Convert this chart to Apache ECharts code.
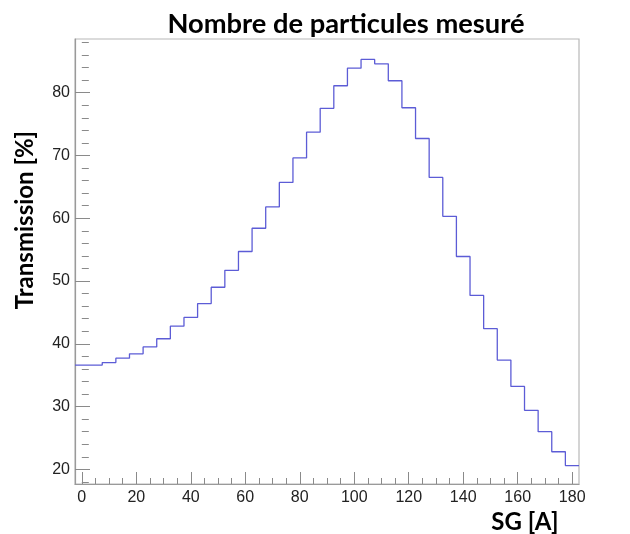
<!DOCTYPE html>
<html>
<head>
<meta charset="utf-8">
<script src="https://cdn.jsdelivr.net/npm/echarts@6/dist/echarts.min.js"></script>
<style>
  html, body { margin: 0; padding: 0; background: #fff; }
  #chart { width: 630px; height: 534px; }
</style>
</head>
<body>
<div id="chart"></div>
<script>
(function(){
    'use strict';

    // histogramme : 37 bins de 5 A, centres 0..180
    var binWidth = 5;
    var binCenters = [0,5,10,15,20,25,30,35,40,45,50,55,60,65,70,75,80,85,90,
        95,100,105,110,115,120,125,130,135,140,145,150,155,160,165,170,175,180];
    var transmission = [36.6,36.6,37.0,37.7,38.4,39.5,40.8,42.8,44.2,46.4,49.0,
        51.7,54.7,58.4,61.8,65.7,69.6,73.7,77.5,81.1,83.9,85.3,84.6,81.9,77.6,
        72.7,66.5,60.3,53.9,47.7,42.4,37.4,33.2,29.4,26.0,22.8,20.6];

    var xTicks = [0,20,40,60,80,100,120,140,160,180];
    var xMinorTicks = [5,10,15,25,30,35,45,50,55,65,70,75,85,90,95,105,110,115,
        125,130,135,145,150,155,165,170,175];
    var yTicks = [20,30,40,50,60,70,80];
    var yMinorTicks = [18,22,24,26,28,32,34,36,38,42,44,46,48,52,54,56,58,62,64,
        66,68,72,74,76,78,82,84,86,88];

    var xMin = -2.5, xMax = 182.5;
    var yMin = 17.66, yMax = 88.55;

    // points du contour (bord gauche de chaque bin + bord droit final)
    var steps = [];
    for (var i = 0; i < binCenters.length; i++){
        steps.push([binCenters[i] - binWidth / 2, transmission[i]]);
    }
    var last = binCenters.length - 1;
    steps.push([binCenters[last] + binWidth / 2, transmission[last]]);

    var labelFont = 'Liberation Sans';
    var boldFont = 'Lato';

    function valueAxis(min, max, extra){
        var ax = {
            type: 'value',
            min: min,
            max: max,
            splitLine: {show: false},
            axisLine: {show: false},
            axisTick: {show: false},
            axisLabel: {show: false}
        };
        for (var k in extra) ax[k] = extra[k];
        return ax;
    }

    var chart = echarts.init(document.getElementById('chart'), null, {renderer: 'canvas'});
    var option = {
        animation: false,
        backgroundColor: '#fff',
        grid: {
            left: 75, right: 51, top: 39, bottom: 50,
            show: true,
            borderColor: '#b8b8b8',
            borderWidth: 1.2,
            containLabel: false
        },
        xAxis: [
            valueAxis(xMin, xMax, {
                axisLine: {show: true, onZero: false, lineStyle: {color: '#9a9a9a', width: 1.2}},
                axisTick: {show: true, inside: true, length: 12, customValues: xTicks,
                    lineStyle: {color: '#8a8a8a', width: 1}},
                axisLabel: {show: true, customValues: xTicks, margin: 6,
                    fontFamily: labelFont, fontSize: 16, color: '#222'}
            }),
            valueAxis(xMin, xMax, {
                position: 'bottom',
                axisTick: {show: true, inside: true, length: 6, customValues: xMinorTicks,
                    lineStyle: {color: '#8a8a8a', width: 1}}
            })
        ],
        yAxis: [
            valueAxis(yMin, yMax, {
                axisLine: {show: true, onZero: false, lineStyle: {color: '#9a9a9a', width: 1.2}},
                axisTick: {show: true, inside: true, length: 15, customValues: yTicks,
                    lineStyle: {color: '#8a8a8a', width: 1}},
                axisLabel: {show: true, customValues: yTicks, margin: 5,
                    fontFamily: labelFont, fontSize: 16, color: '#222'}
            }),
            valueAxis(yMin, yMax, {
                position: 'left',
                axisTick: {show: true, inside: true, length: 7, customValues: yMinorTicks,
                    lineStyle: {color: '#8a8a8a', width: 1}}
            })
        ],
        series: [{
            type: 'line',
            data: steps,
            step: 'end',
            symbol: 'none',
            xAxisIndex: 0,
            yAxisIndex: 0,
            lineStyle: {color: '#5c5cd6', width: 1.3}
        }],
        graphic: [
            {
                type: 'text', x: 346, y: 25, scaleX: 1.05,
                style: {text: 'Nombre de particules mesuré', font: 'bold 26px ' + boldFont, fill: '#000',
                    align: 'center', verticalAlign: 'middle'}
            },
            {
                type: 'text', x: 525, y: 522,
                style: {text: 'SG [A]', font: 'bold 24px ' + boldFont, fill: '#000',
                    align: 'center', verticalAlign: 'middle'}
            },
            {
                type: 'text', x: 25, y: 220, rotation: Math.PI / 2,
                style: {text: 'Transmission [%]', font: 'bold 24px ' + boldFont, fill: '#000',
                    align: 'center', verticalAlign: 'middle'}
            }
        ]
    };
    chart.setOption(option);
})();
</script>
</body>
</html>
